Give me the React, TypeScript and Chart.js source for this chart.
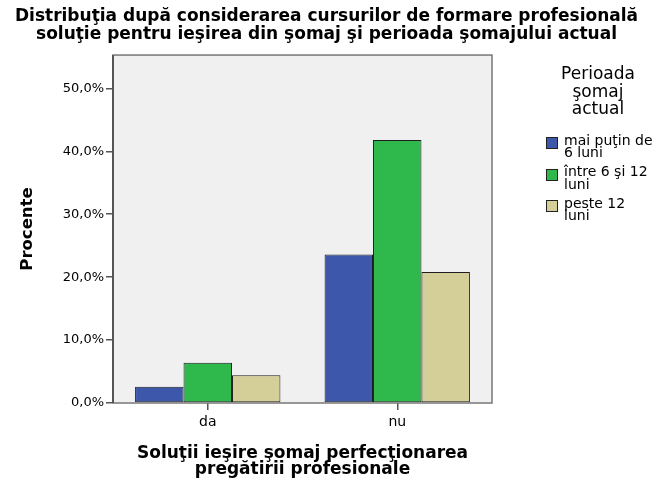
import React, { useEffect, useRef } from "react";
import { Chart, registerables } from "chart.js";

Chart.register(...registerables);

const titleLines = [
  "Distribuţia după considerarea cursurilor de formare profesională",
  "soluţie pentru ieşirea din şomaj şi perioada şomajului actual",
];
const categories = ["da", "nu"];
const seriesLines = [
  ["mai puţin de", "6 luni"],
  ["între 6 şi 12", "luni"],
  ["peste 12", "luni"],
];
const legendTitleLines = ["Perioada", "şomaj", "actual"];
const seriesColors = ["#3d57aa", "#2fb84b", "#d4cf98"];
const valuesLess6 = [2.6, 23.6];
const values6to12 = [6.4, 41.8];
const valuesOver12 = [4.4, 20.8];
const seriesValues = [valuesLess6, values6to12, valuesOver12];
const yTicks = [0, 10, 20, 30, 40, 50];
const yMax = 55.3;
const yTitle = "Procente";
const xTitleLines = ["Soluţii ieşire şomaj perfecţionarea", "pregătirii profesionale"];

const FONT = "'DejaVu Sans', sans-serif";

const framePlugin = {
  id: "frame",
  beforeDatasetsDraw(chart: any) {
    const { ctx, chartArea: a } = chart;
    ctx.save();
    ctx.fillStyle = "#f0f0f0";
    ctx.fillRect(a.left, a.top, a.right - a.left, a.bottom - a.top);
    ctx.restore();
  },
  afterDatasetsDraw(chart: any) {
    const { ctx, chartArea: a } = chart;
    ctx.save();
    ctx.strokeStyle = "#777777";
    ctx.lineWidth = 1.5;
    ctx.strokeRect(a.left, a.top, a.right - a.left, a.bottom - a.top);
    ctx.strokeStyle = "#555555";
    ctx.lineWidth = 2;
    ctx.beginPath();
    ctx.moveTo(a.left, a.top);
    ctx.lineTo(a.left, a.bottom);
    ctx.stroke();
    ctx.restore();
  },
};

export default function App() {
  const ref = useRef<HTMLCanvasElement | null>(null);

  useEffect(() => {
    if (!ref.current) return;
    const chart = new Chart(ref.current, {
      type: "bar",
      data: {
        labels: categories,
        datasets: seriesValues.map((vals, i) => ({
          label: seriesLines[i].join(" "),
          data: vals,
          backgroundColor: seriesColors[i],
          borderColor: "#1e1e1e",
          borderWidth: 1,
          borderSkipped: false,
          categoryPercentage: 0.767,
          barPercentage: 1.0,
        })),
      },
      options: {
        animation: false,
        responsive: true,
        maintainAspectRatio: false,
        layout: { padding: 0 },
        plugins: {
          legend: { display: false },
          tooltip: { enabled: false },
          title: {
            display: true,
            text: titleLines,
            color: "#000",
            font: { family: FONT, size: 17, weight: "bold", lineHeight: 1.06 },
            padding: { top: 8, bottom: 11 },
          },
        },
        scales: {
          x: {
            afterFit(scale: any) {
              scale.height = 76;
            },
            grid: {
              display: true,
              offset: false,
              drawOnChartArea: false,
              drawTicks: true,
              tickLength: 7,
              color: "#555555",
              lineWidth: 1.5,
            },
            border: { display: false },
            ticks: {
              color: "#000",
              font: { family: FONT, size: 14 },
              padding: 4,
            },
            title: {
              display: true,
              text: xTitleLines,
              color: "#000",
              font: { family: FONT, size: 17, weight: "bold", lineHeight: 0.92 },
              padding: { top: 0, bottom: 2 },
            },
          },
          y: {
            min: 0,
            max: yMax,
            afterFit(scale: any) {
              scale.width = 113;
            },
            afterBuildTicks(scale: any) {
              scale.ticks = yTicks.map((v) => ({ value: v }));
            },
            grid: {
              display: true,
              drawOnChartArea: false,
              drawTicks: true,
              tickLength: 7,
              color: "#555555",
              lineWidth: 1.5,
            },
            border: { display: false },
            ticks: {
              color: "#000",
              font: { family: FONT, size: 13 },
              padding: 2,
              callback: (v: any) => Number(v).toFixed(1).replace(".", ",") + "%",
            },
            title: {
              display: true,
              text: yTitle,
              color: "#000",
              font: { family: FONT, size: 16.5, weight: "bold", lineHeight: 1.2 },
              padding: { top: 18, bottom: 0 },
            },
          },
          legendSpace: {
            type: "linear",
            position: "right",
            display: true,
            afterFit(scale: any) {
              scale.width = 161;
            },
            grid: { display: false },
            border: { display: false },
            ticks: { display: false },
          },
        },
      },
      plugins: [framePlugin],
    });
    return () => chart.destroy();
  }, []);

  return (
    <div style={{ position: "absolute", left: 0, top: 0, width: 653, height: 479, background: "#fff" }}>
      <canvas ref={ref} style={{ display: "block", width: 653, height: 479 }} />
      <div
        style={{
          position: "absolute",
          left: 545,
          top: 65,
          width: 106,
          textAlign: "center",
          fontFamily: FONT,
          fontSize: 17,
          lineHeight: "17.5px",
          color: "#000",
        }}
      >
        {legendTitleLines.map((t, i) => (
          <div key={i}>{t}</div>
        ))}
      </div>
      {seriesLines.map((lines, i) => (
        <div key={i}>
          <div
            style={{
              position: "absolute",
              left: 546,
              top: 137 + i * 31.5,
              width: 10,
              height: 10,
              background: seriesColors[i],
              border: "1px solid #222",
            }}
          />
          <div
            style={{
              position: "absolute",
              left: 564,
              top: 133.75 + i * 31.5,
              fontFamily: FONT,
              fontSize: 14,
              lineHeight: "12.5px",
              color: "#000",
              whiteSpace: "nowrap",
            }}
          >
            {lines.map((t, j) => (
              <div key={j}>{t}</div>
            ))}
          </div>
        </div>
      ))}
    </div>
  );
}
